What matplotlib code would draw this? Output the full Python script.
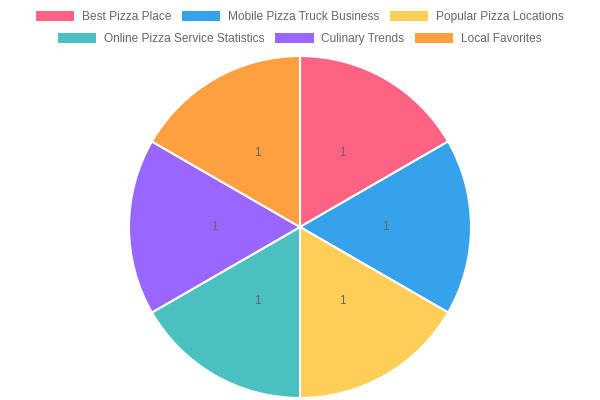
import matplotlib.pyplot as plt
from matplotlib.patches import Patch

labels = ['Best Pizza Place', 'Mobile Pizza Truck Business', 'Popular Pizza Locations',
          'Online Pizza Service Statistics', 'Culinary Trends', 'Local Favorites']
values = [1, 1, 1, 1, 1, 1]
colors = ['#FF6384', '#36A2EB', '#FFCE56', '#4BC0C0', '#9966FF', '#FF9F40']

plt.rcParams['font.family'] = ['Liberation Sans', 'DejaVu Sans']

fig = plt.figure(figsize=(6, 4), dpi=100)
ax = fig.add_axes([0, 0, 1, 1])

total = sum(values)
wedges, texts, autotexts = ax.pie(
    values, colors=colors, center=(300, 173), radius=171,
    startangle=90, counterclock=False,
    wedgeprops=dict(edgecolor='white', linewidth=1.5),
    autopct=lambda p: '%d' % round(p * total / 100), pctdistance=0.5,
    textprops=dict(color='#666666', fontsize=8.6))
ax.set_xlim(0, 600)
ax.set_ylim(0, 400)
ax.set_aspect('equal')
ax.axis('off')

# legend in two centred rows like chart.js
handles = [Patch(facecolor=c, edgecolor='none') for c in colors]
common = dict(frameon=False, ncol=3, fontsize=8.6, handlelength=3.2, handleheight=0.85,
              handletextpad=0.65, columnspacing=0.9, borderpad=0, borderaxespad=0,
              labelcolor='#666666', loc='center')
leg1 = fig.legend(handles[:3], labels[:3], bbox_to_anchor=(0.5, 1 - 17 / 400), **common)
leg2 = fig.legend(handles[3:], labels[3:], bbox_to_anchor=(0.5, 1 - 39 / 400), **common)

fig.savefig('out.png', dpi=100)
